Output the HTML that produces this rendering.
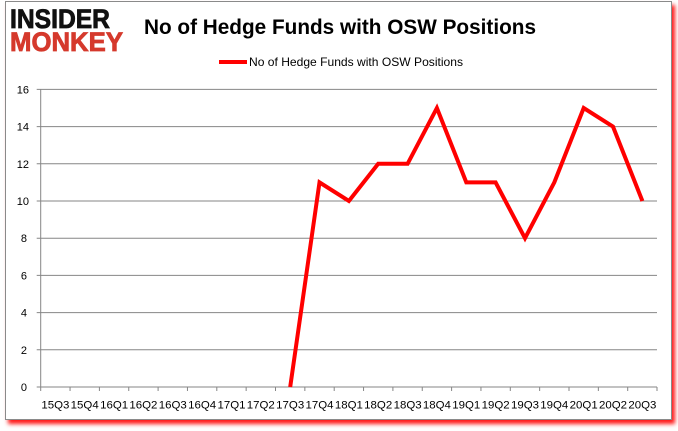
<!DOCTYPE html>
<html><head><meta charset="utf-8"><style>
html,body{margin:0;padding:0;background:#fff;}
body{width:678px;height:431px;position:relative;overflow:hidden;}
.box{position:absolute;left:5px;top:1px;width:665px;height:417px;border:1px solid #8a8a8a;background:#fff;box-shadow:3px 4px 4px rgba(255,0,0,0.9);}
svg{position:absolute;left:0;top:0;}
text{font-family:"Liberation Sans",Arial,sans-serif;}
</style></head><body>
<div class="box"></div>
<svg width="678" height="431" viewBox="0 0 678 431" xmlns="http://www.w3.org/2000/svg">
<!-- logo -->
<text x="10" y="28" font-size="26.5" font-weight="bold" fill="#111" stroke="#111" stroke-width="0.8" textLength="100" lengthAdjust="spacingAndGlyphs">INSIDER</text>
<text x="10" y="51" font-size="26.5" font-weight="bold" fill="#d5392c" stroke="#d5392c" stroke-width="0.8" textLength="113" lengthAdjust="spacingAndGlyphs">MONKEY</text>
<!-- title -->
<text x="144" y="34" font-size="20.8" font-weight="bold" fill="#000" textLength="392" lengthAdjust="spacingAndGlyphs">No of Hedge Funds with OSW Positions</text>
<!-- legend -->
<line x1="219" y1="62" x2="247" y2="62" stroke="#ff0000" stroke-width="4"/>
<text x="249" y="66" font-size="12" fill="#000" textLength="214" lengthAdjust="spacingAndGlyphs">No of Hedge Funds with OSW Positions</text>
<!-- gridlines -->
<g stroke="#868686" stroke-width="1">
<line x1="36.7" y1="89.4" x2="657" y2="89.4"/>
<line x1="36.7" y1="126.6" x2="657" y2="126.6"/>
<line x1="36.7" y1="163.8" x2="657" y2="163.8"/>
<line x1="36.7" y1="201" x2="657" y2="201"/>
<line x1="36.7" y1="238.2" x2="657" y2="238.2"/>
<line x1="36.7" y1="275.4" x2="657" y2="275.4"/>
<line x1="36.7" y1="312.6" x2="657" y2="312.6"/>
<line x1="36.7" y1="349.8" x2="657" y2="349.8"/>
<line x1="36.7" y1="387" x2="657" y2="387"/>
<line x1="40.7" y1="89.4" x2="40.7" y2="391"/>
<line x1="70.05" y1="387" x2="70.05" y2="391"/>
<line x1="99.4" y1="387" x2="99.4" y2="391"/>
<line x1="128.75" y1="387" x2="128.75" y2="391"/>
<line x1="158.1" y1="387" x2="158.1" y2="391"/>
<line x1="187.45" y1="387" x2="187.45" y2="391"/>
<line x1="216.8" y1="387" x2="216.8" y2="391"/>
<line x1="246.15" y1="387" x2="246.15" y2="391"/>
<line x1="275.5" y1="387" x2="275.5" y2="391"/>
<line x1="304.85" y1="387" x2="304.85" y2="391"/>
<line x1="334.2" y1="387" x2="334.2" y2="391"/>
<line x1="363.55" y1="387" x2="363.55" y2="391"/>
<line x1="392.9" y1="387" x2="392.9" y2="391"/>
<line x1="422.25" y1="387" x2="422.25" y2="391"/>
<line x1="451.6" y1="387" x2="451.6" y2="391"/>
<line x1="480.95" y1="387" x2="480.95" y2="391"/>
<line x1="510.3" y1="387" x2="510.3" y2="391"/>
<line x1="539.65" y1="387" x2="539.65" y2="391"/>
<line x1="569" y1="387" x2="569" y2="391"/>
<line x1="598.35" y1="387" x2="598.35" y2="391"/>
<line x1="627.7" y1="387" x2="627.7" y2="391"/>
<line x1="657" y1="387" x2="657" y2="391"/>
</g>
<!-- y labels -->
<g font-size="11" fill="#000" text-anchor="end">
<text x="29" y="93.4">16</text>
<text x="29" y="130.6">14</text>
<text x="29" y="167.8">12</text>
<text x="29" y="205">10</text>
<text x="27" y="242.2">8</text>
<text x="27" y="279.4">6</text>
<text x="27" y="316.6">4</text>
<text x="27" y="353.8">2</text>
<text x="27" y="391">0</text>
</g>
<!-- x labels -->
<g font-size="11.2" fill="#000" text-anchor="middle">
<text x="55.4" y="408.5" textLength="28" lengthAdjust="spacingAndGlyphs">15Q3</text>
<text x="84.7" y="408.5" textLength="28" lengthAdjust="spacingAndGlyphs">15Q4</text>
<text x="114.1" y="408.5" textLength="28" lengthAdjust="spacingAndGlyphs">16Q1</text>
<text x="143.4" y="408.5" textLength="28" lengthAdjust="spacingAndGlyphs">16Q2</text>
<text x="172.8" y="408.5" textLength="28" lengthAdjust="spacingAndGlyphs">16Q3</text>
<text x="202.1" y="408.5" textLength="28" lengthAdjust="spacingAndGlyphs">16Q4</text>
<text x="231.5" y="408.5" textLength="28" lengthAdjust="spacingAndGlyphs">17Q1</text>
<text x="260.8" y="408.5" textLength="28" lengthAdjust="spacingAndGlyphs">17Q2</text>
<text x="290.2" y="408.5" textLength="28" lengthAdjust="spacingAndGlyphs">17Q3</text>
<text x="319.5" y="408.5" textLength="28" lengthAdjust="spacingAndGlyphs">17Q4</text>
<text x="348.9" y="408.5" textLength="28" lengthAdjust="spacingAndGlyphs">18Q1</text>
<text x="378.2" y="408.5" textLength="28" lengthAdjust="spacingAndGlyphs">18Q2</text>
<text x="407.6" y="408.5" textLength="28" lengthAdjust="spacingAndGlyphs">18Q3</text>
<text x="436.9" y="408.5" textLength="28" lengthAdjust="spacingAndGlyphs">18Q4</text>
<text x="466.3" y="408.5" textLength="28" lengthAdjust="spacingAndGlyphs">19Q1</text>
<text x="495.6" y="408.5" textLength="28" lengthAdjust="spacingAndGlyphs">19Q2</text>
<text x="525" y="408.5" textLength="28" lengthAdjust="spacingAndGlyphs">19Q3</text>
<text x="554.3" y="408.5" textLength="28" lengthAdjust="spacingAndGlyphs">19Q4</text>
<text x="583.7" y="408.5" textLength="28" lengthAdjust="spacingAndGlyphs">20Q1</text>
<text x="613" y="408.5" textLength="28" lengthAdjust="spacingAndGlyphs">20Q2</text>
<text x="642.4" y="408.5" textLength="28" lengthAdjust="spacingAndGlyphs">20Q3</text>
</g>
<!-- series -->
<polyline fill="none" stroke="#ff0000" stroke-width="4" stroke-linejoin="miter" points="290.2,387 319.5,182.4 348.9,201 378.2,163.8 407.6,163.8 436.9,108 466.3,182.4 495.6,182.4 525,238.2 554.3,182.4 583.7,108 613,126.6 642.4,201"/>
</svg>
</body></html>
